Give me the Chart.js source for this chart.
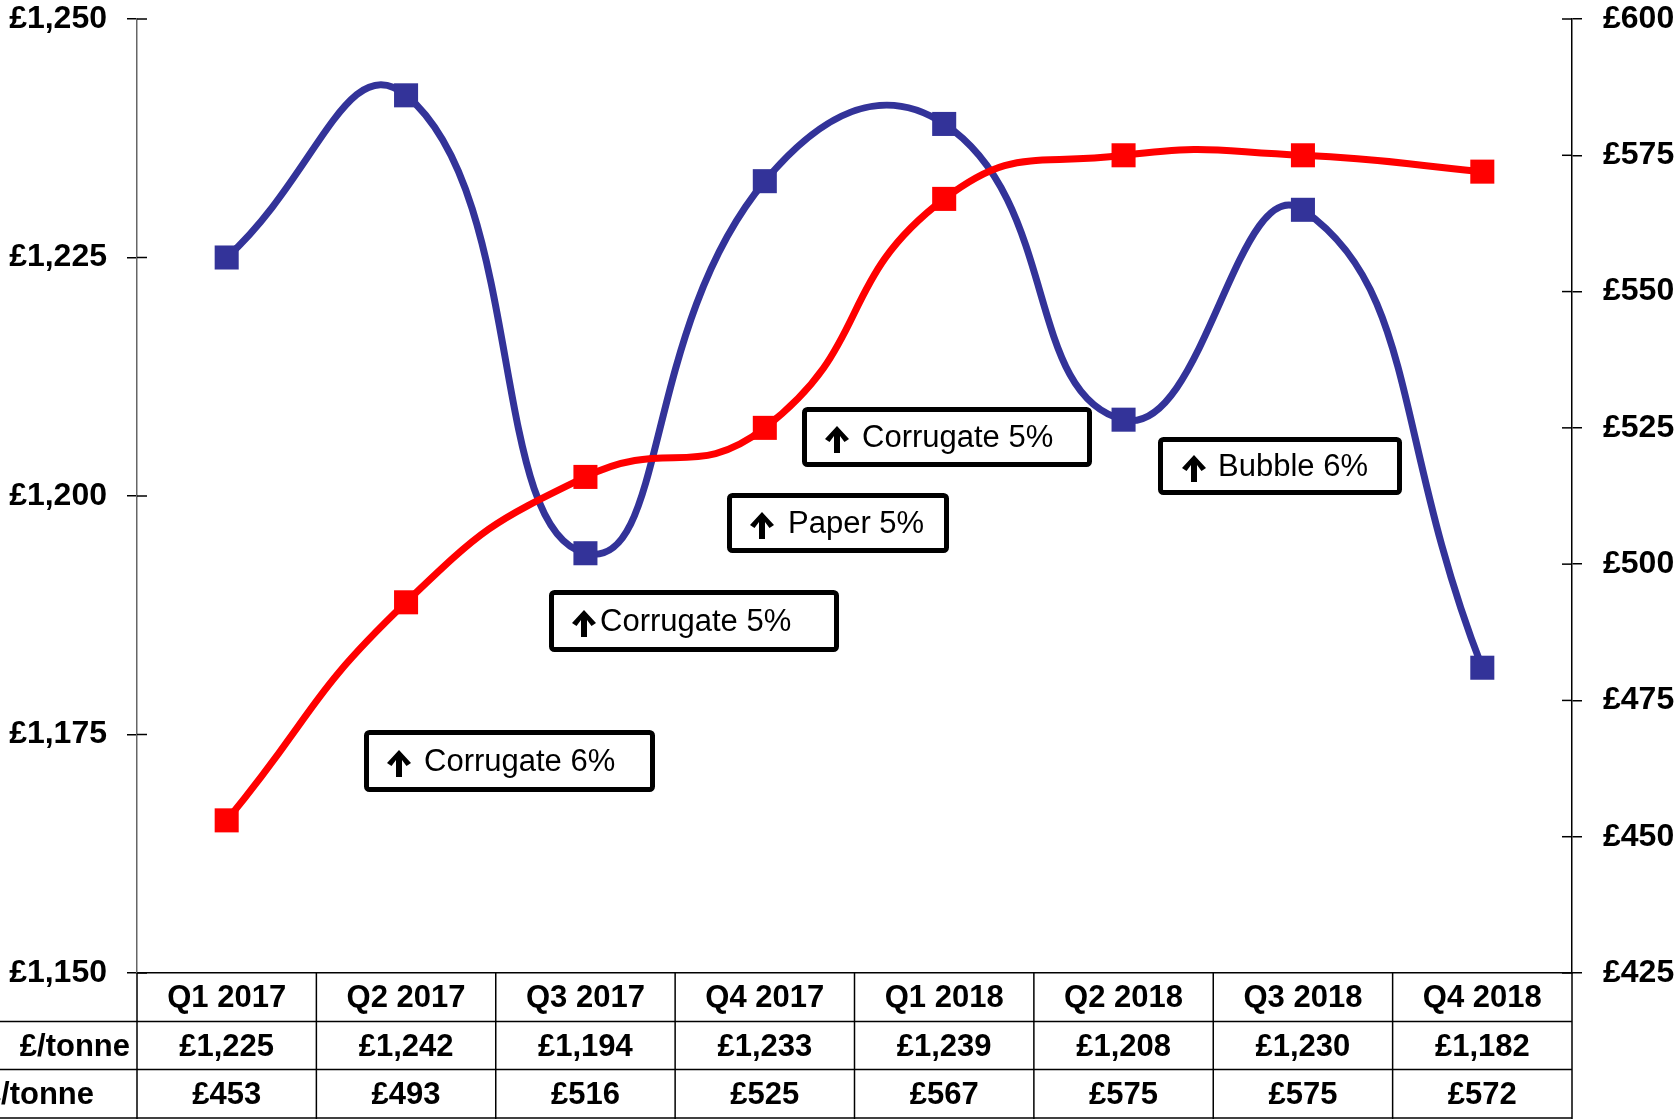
<!DOCTYPE html>
<html>
<head>
<meta charset="utf-8">
<script src="https://cdn.jsdelivr.net/npm/chart.js@4.4.0/dist/chart.umd.min.js"></script>
<style>
    body { margin: 0; background: #fff; }
    #wrap { width: 1678px; height: 1119px; position: relative; }
</style>
</head>
<body>
<div id="wrap"><canvas id="priceChart"></canvas></div>
<script>
"use strict";

var quarters = ["Q1 2017", "Q2 2017", "Q3 2017", "Q4 2017", "Q1 2018", "Q2 2018", "Q3 2018", "Q4 2018"];
var bluePrices = [1225, 1242, 1194, 1233, 1239, 1208, 1230, 1182];
var redPrices = [453, 493, 516, 525, 567, 575, 575, 572];
var blueLabel = "£/tonne";
var redLabel = "£/tonne";
var leftTicks = [1150, 1175, 1200, 1225, 1250];
var rightTicks = [425, 450, 475, 500, 525, 550, 575, 600];

var notes = ["Corrugate 6%", "Corrugate 5%", "Paper 5%", "Corrugate 5%", "Bubble 6%"];
// box layout for the notes, pixels: left, top, right, bottom, arrow x, text x
var noteBoxes = [
    [364, 730, 655, 792, 387, 424],
    [549, 590, 839, 652, 572, 600],
    [727, 493, 949, 553, 750, 788],
    [802, 407, 1092, 467, 825, 862],
    [1158, 437, 1402, 495, 1182, 1218]
];

var FONT = '"Liberation Sans", Arial, sans-serif';

function money(v) {
    return "£" + v.toLocaleString("en-GB");
}

function drawArrow(ctx, x, cy) {
    // filled up arrow, about 24 wide by 27 tall
    var top = cy - 13, bottom = cy + 14;
    ctx.beginPath();
    ctx.moveTo(x + 12, top);
    ctx.lineTo(x + 24, top + 13);
    ctx.lineTo(x + 19.5, top + 16);
    ctx.lineTo(x + 15, top + 10);
    ctx.lineTo(x + 15, bottom);
    ctx.lineTo(x + 9, bottom);
    ctx.lineTo(x + 9, top + 10);
    ctx.lineTo(x + 4.5, top + 16);
    ctx.lineTo(x, top + 13);
    ctx.closePath();
    ctx.fill();
}

function fixAxis(width) {
    return function (scale) {
        scale.width = width;
        scale.paddingTop = 19;
        scale.paddingBottom = 19;
    };
}

var tablePlugin = {
    id: "dataTable",
    afterDraw: function (chart) {
        var ctx = chart.ctx;
        var xs = chart.scales.x;
        var area = chart.chartArea;
        var H = chart.height;
        var rowH = (H - area.bottom) / 3;
        var colW = xs.width / quarters.length;

        ctx.save();
        ctx.strokeStyle = "#000";
        ctx.lineWidth = 1.5;

        // inward tick stubs
        chart.scales.y.ticks.forEach(function (t, i) {
            var y = chart.scales.y.getPixelForTick(i);
            ctx.beginPath();
            ctx.moveTo(area.left, y);
            ctx.lineTo(area.left + 10, y);
            ctx.stroke();
        });
        chart.scales.y1.ticks.forEach(function (t, i) {
            var y = chart.scales.y1.getPixelForTick(i);
            ctx.beginPath();
            ctx.moveTo(area.right - 10, y);
            ctx.lineTo(area.right, y);
            ctx.stroke();
        });

        // table grid
        for (var r = 1; r <= 3; r++) {
            var yy = Math.round(area.bottom + r * rowH) - 0.5;
            if (r == 3) yy = H - 1;
            ctx.beginPath();
            ctx.moveTo(0, yy);
            ctx.lineTo(area.right, yy);
            ctx.stroke();
        }
        for (var c = 0; c <= quarters.length; c++) {
            var xx = area.left + c * colW;
            ctx.beginPath();
            ctx.moveTo(xx, area.bottom);
            ctx.lineTo(xx, H);
            ctx.stroke();
        }

        // table text
        ctx.fillStyle = "#000";
        ctx.font = "bold 31px " + FONT;
        ctx.textBaseline = "middle";
        ctx.textAlign = "center";
        for (var i = 0; i < quarters.length; i++) {
            var cx = xs.getPixelForValue(i);
            ctx.fillText(quarters[i], cx, area.bottom + rowH * 0.5 + 1);
            ctx.fillText(money(bluePrices[i]), cx, area.bottom + rowH * 1.5 + 1);
            ctx.fillText(money(redPrices[i]), cx, area.bottom + rowH * 2.5 + 1);
        }
        ctx.textAlign = "right";
        ctx.fillText(blueLabel, 130, area.bottom + rowH * 1.5 + 1);
        ctx.fillText(redLabel, 94, area.bottom + rowH * 2.5 + 1);

        // note boxes
        ctx.font = "31px " + FONT;
        ctx.textAlign = "left";
        ctx.lineWidth = 5;
        for (var n = 0; n < notes.length; n++) {
            var b = noteBoxes[n];
            ctx.fillStyle = "#fff";
            ctx.beginPath();
            ctx.roundRect(b[0] + 2.5, b[1] + 2.5, b[2] - b[0] - 5, b[3] - b[1] - 5, 3);
            ctx.fill();
            ctx.stroke();
            ctx.fillStyle = "#000";
            var cy = (b[1] + b[3]) / 2;
            drawArrow(ctx, b[4], cy + 2);
            ctx.fillText(notes[n], b[5], cy + 1);
        }
        ctx.restore();
    }
};

var ctx1 = document.getElementById("priceChart");
var priceChart = new Chart(ctx1, {
    type: "line",
    data: {
        labels: quarters,
        datasets: [{
            label: redLabel,
            data: redPrices,
            yAxisID: "y1",
            order: 0,
            borderColor: "#FF0000",
            backgroundColor: "#FF0000",
            borderWidth: 7,
            tension: 0.5,
            pointStyle: "rect",
            pointRadius: 17,
            pointHoverRadius: 17,
            pointBorderWidth: 0
        }, {
            label: blueLabel,
            data: bluePrices,
            yAxisID: "y",
            order: 1,
            borderColor: "#333399",
            backgroundColor: "#333399",
            borderWidth: 7,
            tension: 0.5,
            pointStyle: "rect",
            pointRadius: 17,
            pointHoverRadius: 17,
            pointBorderWidth: 0
        }]
    },
    options: {
        responsive: true,
        maintainAspectRatio: false,
        animation: false,
        layout: { padding: 0 },
        plugins: {
            legend: { display: false },
            tooltip: { enabled: false }
        },
        elements: { line: { capBezierPoints: false } },
        scales: {
            x: {
                offset: true,
                grid: { display: false },
                ticks: { display: false },
                border: { color: "#000", width: 1.5 },
                afterFit: function (scale) { scale.height = 146; }
            },
            y: {
                position: "left",
                min: 1150,
                max: 1250,
                afterBuildTicks: function (scale) {
                    scale.ticks = leftTicks.map(function (v) { return { value: v }; });
                },
                ticks: {
                    color: "#000",
                    padding: 20,
                    font: { family: FONT, size: 32, weight: "bold" },
                    callback: function (v) { return money(v); }
                },
                grid: { drawOnChartArea: false, tickLength: 10, color: "#000", lineWidth: 1.5 },
                border: { color: "#666", width: 1.5 },
                afterFit: fixAxis(137)
            },
            y1: {
                position: "right",
                min: 425,
                max: 600,
                afterBuildTicks: function (scale) {
                    scale.ticks = rightTicks.map(function (v) { return { value: v }; });
                },
                ticks: {
                    color: "#000",
                    padding: 21,
                    font: { family: FONT, size: 32, weight: "bold" },
                    callback: function (v) { return money(v); }
                },
                grid: { drawOnChartArea: false, tickLength: 10, color: "#000", lineWidth: 1.5 },
                border: { color: "#000", width: 1.5 },
                afterFit: fixAxis(106)
            }
        }
    },
    plugins: [tablePlugin]
});
</script>
</body>
</html>
